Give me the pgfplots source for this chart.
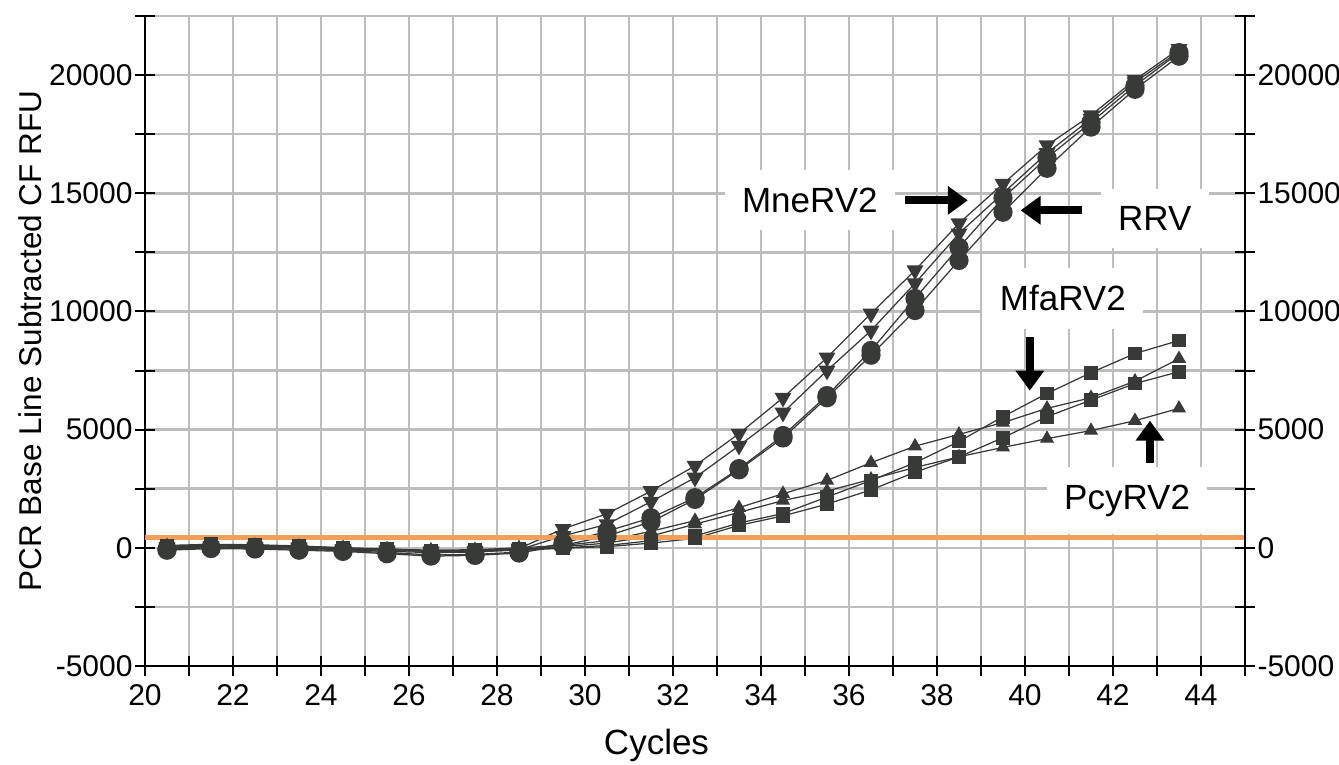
\documentclass[border=0pt]{standalone}
\usepackage{fontspec}
\setmainfont{Liberation Sans}
\usepackage{pgfplots}
\pgfplotsset{compat=1.18}
\usepackage{pgfplotstable}
\usetikzlibrary{arrows.meta}

\definecolor{cMark}{HTML}{383A38}
\definecolor{cGrid}{HTML}{BDBDBD}
\definecolor{cThresh}{HTML}{F0A05A}

% PCR amplification curves, one column per well
\pgfplotstableread{
x    A     B     C     D     E     F     G     H
20.5 50    0     -50   -100  100   50    80    30
21.5 80    30    0     -30   150   100   120   80
22.5 60    20    -20   -50   130   80    100   60
23.5 20    -20   -60   -100  80    30    60    20
24.5 -50   -80   -120  -150  0     -30   0     -30
25.5 -100  -150  -200  -250  -60   -100  -50   -80
26.5 -150  -200  -300  -350  -120  -150  -100  -130
27.5 -120  -180  -280  -320  -100  -150  -80   -120
28.5 -30   -80   -180  -220  -50   -100  0     -50
29.5 800   500   200   100   0     -20   100   50
30.5 1440  1000  700   500   100   50    300   200
31.5 2400  1950  1270  1100  300   200   700   500
32.5 3470  2970  2120  2050  500   400   1150  1000
33.5 4830  4320  3350  3300  1050  950   1700  1500
34.5 6350  5720  4750  4650  1450  1350  2290  2000
35.5 8050  7500  6440  6350  2150  1850  2850  2400
36.5 9910  9190  8350  8150  2850  2450  3600  2900
37.5 11740 11190 10550 10040 3600  3200  4300  3400
38.5 13730 13300 12710 12160 4500  3850  4800  3850
39.5 15400 15000 14800 14200 5550  4660  5300  4250
40.5 17030 16700 16500 16060 6530  5550  5900  4620
41.5 18300 18150 18000 17800 7410  6250  6350  4960
42.5 19800 19700 19550 19400 8220  6950  7050  5380
43.5 21100 21000 20950 20800 8770  7450  8000  5900
}\qdata

\pgfplotsset{
  pcr/.style={cMark, line width=0.5pt, mark options={solid, fill=cMark, draw=cMark}},
  common/.style={
    width=440pt, height=260pt, scale only axis,
    at={(0,0)}, anchor=south west,
    xmin=20, xmax=45, ymin=-5000, ymax=22500,
    ytick={-5000,0,5000,10000,15000,20000},
    yticklabels={-5000,0,5000,10000,15000,20000},
    minor ytick={-2500,2500,7500,12500,17500,22500},
    scaled y ticks=false,
    tick align=center,
    major tick length=8pt, minor tick length=8pt,
    tick style={black, line width=0.8pt},
    axis line style={black, line width=0.9pt, -},
    tick label style={font=\fontsize{12}{14}\selectfont},
    yticklabel style={inner xsep=0.8pt},
  },
}

\begin{document}
\begin{tikzpicture}
\path[use as bounding box] (-58pt,-39.2pt) rectangle (477.6pt,266.4pt);

\begin{axis}[common,
    axis x line*=bottom, axis y line*=left,
    xtick={20,22,...,44},
    xticklabels={20,22,24,26,28,30,32,34,36,38,40,42,44},
    minor xtick={21,23,...,45},
    grid=both,
    major grid style={cGrid, line width=1pt},
    minor grid style={cGrid, line width=1pt},
    xlabel={Cycles},
    ylabel={PCR Base Line Subtracted CF RFU},
    ylabel style={font=\fontsize{12.6}{15}\selectfont, at={(axis description cs:-0.1045,0.5)}, anchor=center},
    xlabel style={font=\fontsize{14}{16}\selectfont, at={(axis description cs:0.465,0)}, anchor=center, yshift=-31.6pt},
    clip=false,
  ]
  \addplot[pcr, mark=triangle*, mark size=3.4pt, mark options={rotate=180}] table[x=x,y=A]{\qdata};
  \addplot[pcr, mark=triangle*, mark size=3.4pt, mark options={rotate=180}] table[x=x,y=B]{\qdata};
  \addplot[pcr, mark=*, mark size=3.6pt] table[x=x,y=C]{\qdata};
  \addplot[pcr, mark=*, mark size=3.6pt] table[x=x,y=D]{\qdata};
  \addplot[pcr, mark=square*, mark size=2.5pt] table[x=x,y=E]{\qdata};
  \addplot[pcr, mark=square*, mark size=2.5pt] table[x=x,y=F]{\qdata};
  \addplot[pcr, mark=triangle*, mark size=2.8pt] table[x=x,y=G]{\qdata};
  \addplot[pcr, mark=triangle*, mark size=2.8pt] table[x=x,y=H]{\qdata};

  % threshold
  \addplot[cThresh, line width=2pt] coordinates {(20,430) (45,430)};

  % labels and arrows
  \tikzset{lab/.style={fill=white, inner xsep=7pt, inner ysep=7pt, font=\fontsize{14}{16}\selectfont},
           blk/.style={black, line width=3.2pt, -{Triangle[length=8pt,width=11pt]}}}
  \node[lab] at (axis cs:35.11,14700) {MneRV2};
  \draw[blk] (axis cs:37.27,14700) -- (axis cs:38.7,14700);
  \node[lab] at (axis cs:42.95,13940) {RRV};
  \draw[blk] (axis cs:41.30,14280) -- (axis cs:39.9,14280);
  \node[lab] at (axis cs:40.86,10550) {MfaRV2};
  \draw[blk] (axis cs:40.11,8900) -- (axis cs:40.11,6650);
  \node[lab] at (axis cs:42.32,1990) {PcyRV2};
  \draw[blk] (axis cs:42.84,3600) -- (axis cs:42.84,5380);
\end{axis}

\begin{axis}[common,
    axis x line=none, axis y line*=right,
  ]
\end{axis}
\end{tikzpicture}
\end{document}
